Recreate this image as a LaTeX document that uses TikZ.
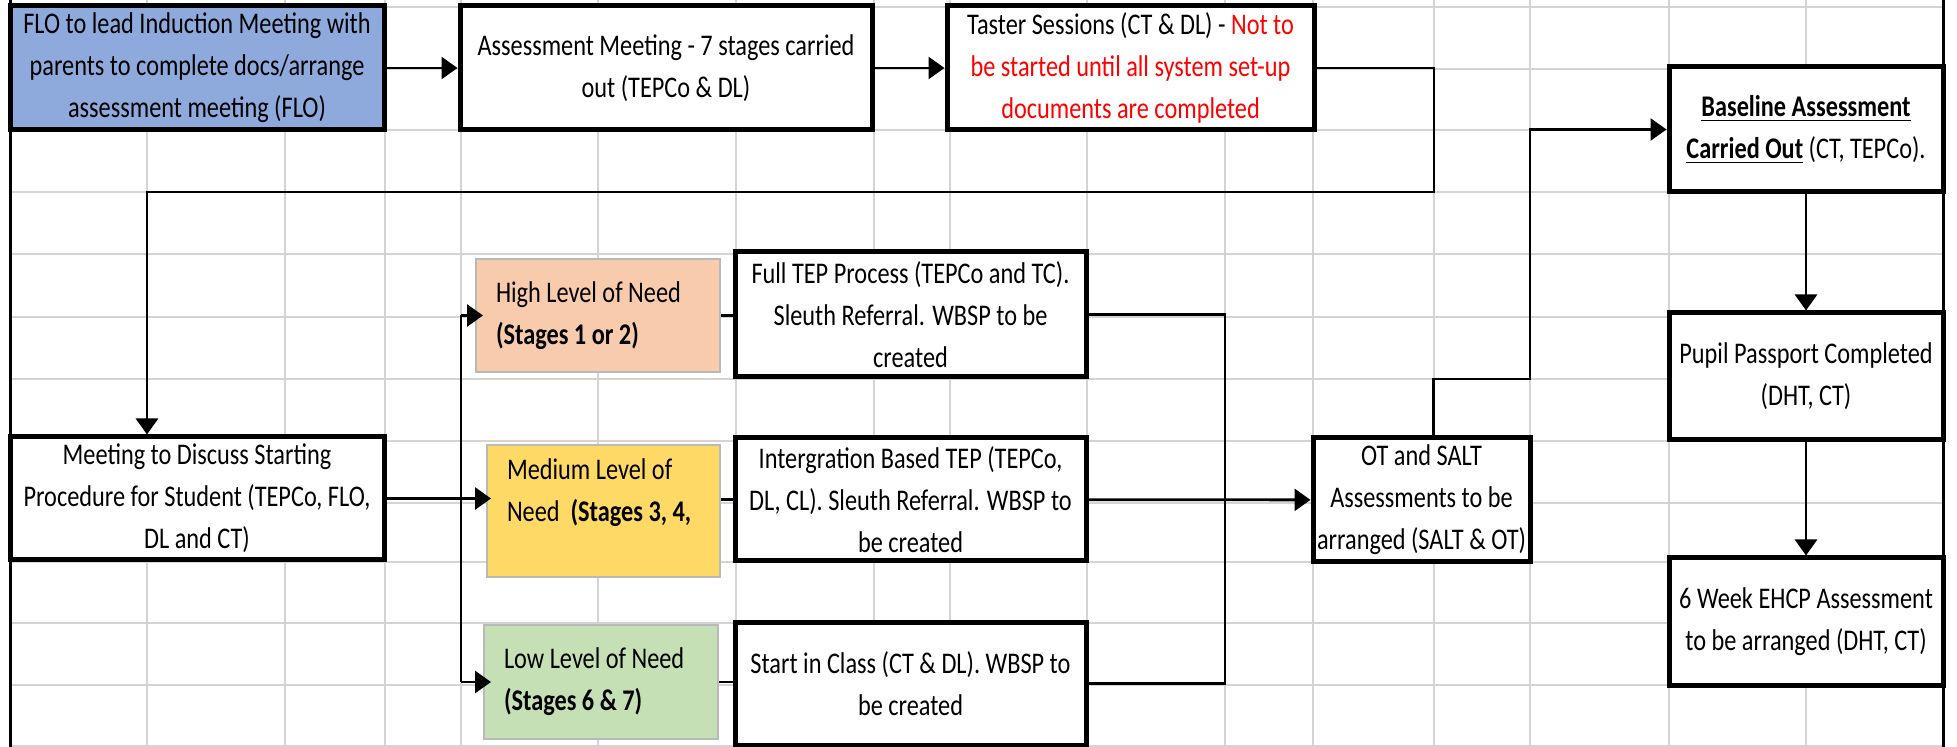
\documentclass[tikz,border=0pt]{standalone}
\usepackage{fontspec}
\setmainfont{Carlito}[FakeStretch=0.81]
\usepackage{xcolor}
\usetikzlibrary{arrows.meta,positioning,calc}
\definecolor{xlblue}{HTML}{8EA9DB}
\definecolor{xlpeach}{HTML}{F8CBAD}
\definecolor{xlgold}{HTML}{FFD966}
\definecolor{xlgreen}{HTML}{C5E0B4}
\definecolor{xlgrid}{HTML}{D4D4D4}

\begin{document}
\begin{tikzpicture}[
    x=0.5pt, y=-0.5pt,
    font=\fontsize{15}{21}\selectfont,
    gridline/.style={xlgrid, line width=1.3pt},
    border/.style={black, line width=1.5pt},
    box/.style={draw, fill=white, line width=2.5pt, align=center, inner sep=1pt},
    level/.style={draw=gray!55, line width=1pt, align=flush left, inner xsep=10pt},
    link/.style={line width=1.4pt},
    flow/.style={link, -{Triangle[length=8pt, width=11pt]}}]
\useasboundingbox (0,0) rectangle (1957,747);

\foreach \gx in {147,285,385,461,598,736,874,950,1087,1225,1313,1434,1530,1669,1806}
    \draw[gridline] (\gx,0) -- (\gx,747);
\foreach \gy in {7,69,130,192,254,317,379,441,503,562,623,685,746}
    \draw[gridline] (10,\gy) -- (1943,\gy);
\draw[border] (10,0) -- (10,747);
\draw[border] (1943,0) -- (1943,747);

\node[box, fill=xlblue, minimum width=187pt, minimum height=62pt] (flo) at (197,68) {FLO to lead Induction Meeting with\\parents to complete docs/arrange\\assessment meeting (FLO)};
\node[box, minimum width=206pt, minimum height=62pt] (assess) at (666,68) {Assessment Meeting - 7 stages carried\\out (TEPCo \& DL)};
\node[box, minimum width=183.5pt, minimum height=62pt] (taster) at (1130.5,68) {Taster Sessions (CT \& DL) - \textcolor{red}{Not to}\\\textcolor{red}{be started until all system set-up}\\\textcolor{red}{documents are completed}};
\node[box, minimum width=137pt, minimum height=62.5pt] (baseline) at (1806,129.5) {\underline{\textbf{Baseline Assessment}}\\\underline{\textbf{Carried Out}} (CT, TEPCo).};
\node[box, minimum width=137pt, minimum height=63.5pt] (pupil) at (1806,376.5) {Pupil Passport Completed\\(DHT, CT)};
\node[box, minimum width=137pt, minimum height=63.5pt] (ehcp) at (1806,621.5) {6 Week EHCP Assessment\\to be arranged (DHT, CT)};
\node[box, minimum width=187pt, minimum height=61.5pt] (meeting) at (197,498.5) {Meeting to Discuss Starting\\Procedure for Student (TEPCo, FLO,\\DL and CT)};
\node[level, fill=xlpeach, minimum height=56.5pt, text width=102pt] (high) at (598,315.5) {High Level of Need\\\textbf{(Stages 1 or 2)}};
\node[level, fill=xlgold, minimum height=66pt, text width=96.5pt] (medium) at (603.5,511) {Medium Level of\\\mbox{Need \ \textbf{(Stages 3, 4,}}\\\mbox{}};
\node[level, fill=xlgreen, minimum height=57pt, text width=97pt] (low) at (601,682) {Low Level of Need\\\textbf{(Stages 6 \& 7)}};
\node[box, minimum width=175.5pt, minimum height=62.5pt] (fulltep) at (910.5,314.5) {Full TEP Process (TEPCo and TC).\\Sleuth Referral. WBSP to be\\created};
\node[box, minimum width=175.5pt, minimum height=61.5pt] (integ) at (910.5,499.5) {Intergration Based TEP (TEPCo,\\DL, CL). Sleuth Referral. WBSP to\\be created};
\node[box, minimum width=175.5pt, minimum height=61.5pt] (start) at (910.5,683.5) {Start in Class (CT \& DL). WBSP to\\be created};
\node[box, minimum width=108.5pt, minimum height=62pt, inner xsep=0pt] (ot) at (1421.5,500) {OT and SALT\\Assessments to be\\arranged (SALT \& OT)};

\coordinate (tback) at (1434,192);
\coordinate (tdown) at (147,192);
\coordinate (split) at (461,315.5);
\coordinate (merge) at (1225,0);
\coordinate (otjog) at (1530,379);

\draw[flow] (flo) -- (assess);
\draw[flow] (assess) -- (taster);
\draw[flow] (taster.east) -| (tback) -- (tdown) -- (tdown |- meeting.north);
\draw[flow, shorten >=-2.5pt] (meeting.east) -- (meeting.east -| medium.west);
\draw[link] (split) -- (split |- low.west);
\draw[flow, shorten >=-4pt] (split) -- (high.west);
\draw[flow, shorten >=-4pt] (split |- low.west) -- (low.west);
\draw[link] (high.east) -- (high.east -| fulltep.west);
\draw[link] (medium.east |- integ.west) -- (integ.west);
\draw[link] (low.east) -- (low.east -| start.west);
\draw[link] (fulltep.east) -| (merge |- start.east) -- (start.east);
\draw[flow] (integ) -- (ot);
\draw[flow] ([xshift=6pt]ot.north) |- (otjog) |- (baseline.west);
\draw[flow] (baseline) -- (pupil);
\draw[flow] (pupil) -- (ehcp);

\end{tikzpicture}
\end{document}
